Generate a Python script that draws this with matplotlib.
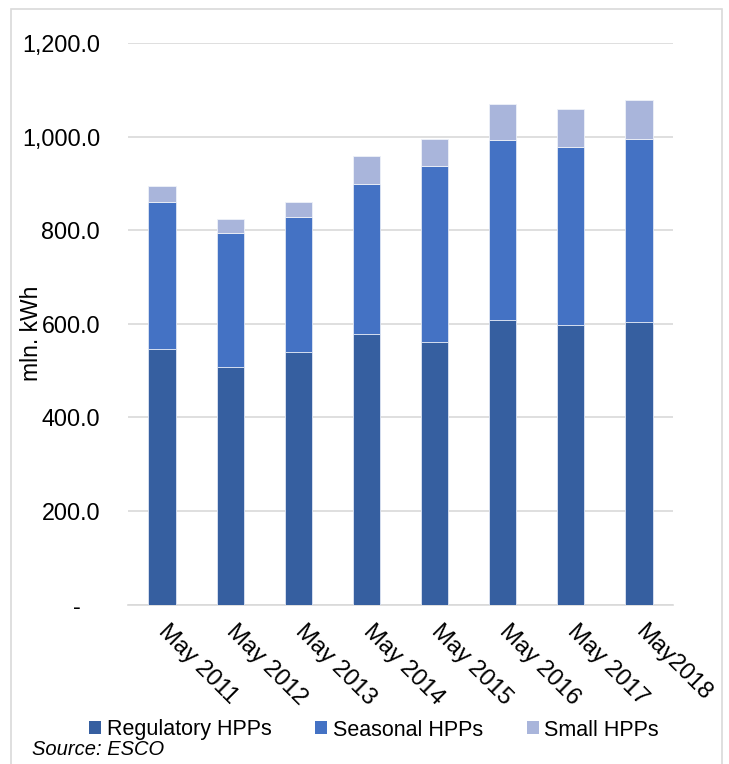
import matplotlib
matplotlib.use("Agg")
import matplotlib.pyplot as plt
from matplotlib.patches import Rectangle, Patch
from matplotlib.ticker import FuncFormatter

categories = ["May 2011", "May 2012", "May 2013", "May 2014", "May 2015",
              "May 2016", "May 2017", "May2018"]
regulatory = [545.6, 507.1, 540.5, 577.7, 560.6, 607.6, 598.2, 603.3]
seasonal = [315.5, 287.8, 287.9, 320.6, 376.2, 386.1, 379.9, 391.9]
small = [33.0, 29.9, 31.4, 60.5, 58.4, 77.0, 81.2, 84.0]
series_names = ["Regulatory HPPs", "Seasonal HPPs", "Small HPPs"]
colors = ["#365FA0", "#4472C4", "#A9B5DB"]
y_ticks = [0, 200, 400, 600, 800, 1000, 1200]

plt.rcParams['font.family'] = ['Liberation Sans', 'DejaVu Sans']

W, H = 729, 764
fig = plt.figure(figsize=(W / 100, H / 100), dpi=100)

def fx(px):
    return px / W

def fy(py):
    return 1 - py / H

# outer frame
fig.patches.append(Rectangle((fx(11), fy(790)), fx(722) - fx(11), fy(9) - fy(790),
                             transform=fig.transFigure, fill=False,
                             edgecolor="#d9d9d9", linewidth=1.2))

ax = fig.add_axes([fx(128), fy(604.5), fx(673) - fx(128), fy(43) - fy(604.5)])

x = list(range(len(categories)))
bottom2 = [r for r in regulatory]
bottom3 = [r + s for r, s in zip(regulatory, seasonal)]
ax.bar(x, regulatory, width=0.4, color=colors[0], edgecolor="#dfe6f3", linewidth=0.6, zorder=3)
ax.bar(x, seasonal, width=0.4, bottom=bottom2, color=colors[1], edgecolor="#dfe6f3", linewidth=0.6, zorder=3)
ax.bar(x, small, width=0.4, bottom=bottom3, color=colors[2], edgecolor="#eef1f8", linewidth=0.6, zorder=3)

ax.set_xlim(-0.5, 7.5)
ax.set_ylim(0, 1200)
ax.set_yticks(y_ticks)

def fmt(v, pos):
    if v == 0:
        return "-   "
    return f"{v:,.1f}"

ax.yaxis.set_major_formatter(FuncFormatter(fmt))
ax.tick_params(axis='y', length=0, pad=20, labelsize=16.8, colors="black")
ax.grid(axis='y', color="#d9d9d9", linewidth=1.2, zorder=0)
ax.set_axisbelow(True)
for s in ["top", "right", "left"]:
    ax.spines[s].set_visible(False)
ax.spines["bottom"].set_color("#d9d9d9")
ax.spines["bottom"].set_linewidth(1.2)

ax.set_xticks(x)
ax.set_xticklabels(categories, rotation=-45, ha="left", va="center",
                   rotation_mode="anchor", fontsize=17)
ax.tick_params(axis='x', length=0, pad=17)

fig.text(fx(32), fy(333), "mln. kWh", rotation=90, ha="center", va="center",
         fontsize=16.5)

handles = [Patch(facecolor=c, edgecolor="none") for c in colors]
fig.legend(handles, series_names, loc="center", bbox_to_anchor=(fx(374), fy(730)),
           ncol=3, frameon=False, fontsize=15.5, handlelength=0.55, handleheight=0.55,
           handletextpad=0.25, columnspacing=2.05, borderpad=0, borderaxespad=0)

fig.text(fx(32), fy(740), "Source: ESCO", style="italic", ha="left", va="top",
         fontsize=14.5)

fig.savefig("out.png", dpi=100)
